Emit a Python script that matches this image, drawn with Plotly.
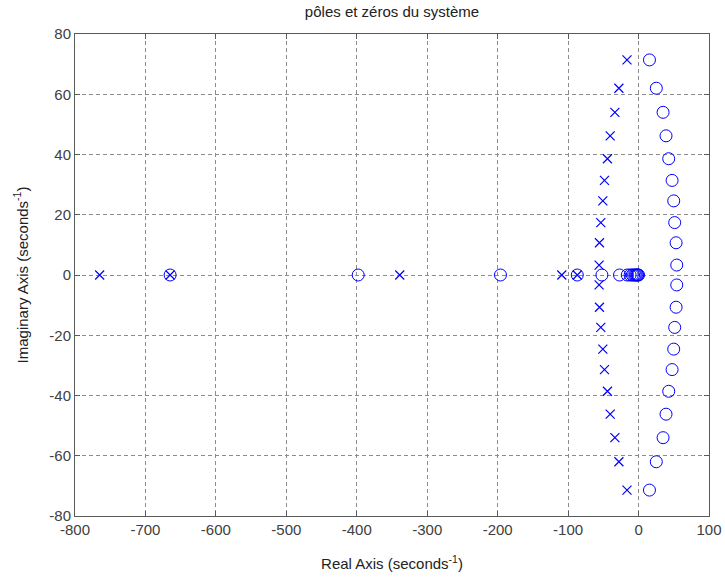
import numpy as np
import plotly.graph_objects as go

# Real poles and zeros (on the real axis)
poles_real = [-765, -665, -339, -109, -87]
zeros_real = [-665, -398, -196, -87, -52, -27, -16, -12, -9, -7, -5, -3.5, -2, -1, 0]

# Complex-conjugate pole pairs (upper half; mirrored below)
poles_cplx_re = [-16.4, -27.9, -33.6, -40.3, -44.2, -48.4, -50.7, -53.6, -55.5, -56.0]
poles_cplx_im = [71.4, 62.0, 54.0, 46.2, 38.6, 31.4, 24.6, 17.4, 10.7, 3.3]

# Complex-conjugate zero pairs (upper half; mirrored below)
zeros_cplx_re = [15.5, 25.2, 34.8, 39.0, 42.8, 47.6, 49.9, 51.3, 53.3, 54.2]
zeros_cplx_im = [71.4, 62.0, 54.0, 46.2, 38.6, 31.4, 24.6, 17.4, 10.7, 3.3]

x_ticks = [-800, -700, -600, -500, -400, -300, -200, -100, 0, 100]
y_ticks = [-80, -60, -40, -20, 0, 20, 40, 60, 80]

pr = np.array(poles_cplx_re)
pi = np.array(poles_cplx_im)
zr = np.array(zeros_cplx_re)
zi = np.array(zeros_cplx_im)

pole_x = np.concatenate([poles_real, pr, pr])
pole_y = np.concatenate([np.zeros(len(poles_real)), pi, -pi])
zero_x = np.concatenate([zeros_real, zr, zr])
zero_y = np.concatenate([np.zeros(len(zeros_real)), zi, -zi])

blue = "rgb(0,0,255)"
FONT = "Liberation Sans, Arial"

fig = go.Figure()
fig.add_trace(go.Scatter(
    x=zero_x, y=zero_y, mode="markers", name="zeros",
    marker=dict(symbol="circle-open", size=12, color=blue, line=dict(width=1, color=blue)),
))
fig.add_trace(go.Scatter(
    x=pole_x, y=pole_y, mode="markers", name="pôles",
    marker=dict(symbol="x-thin-open", size=9, color=blue, line=dict(width=1.2, color=blue)),
))

axis_common = dict(
    showgrid=True, gridcolor="#8c8c8c", griddash="4px,3px", gridwidth=1,
    zeroline=False, showline=True, linecolor="#5a5a5a", linewidth=1, mirror="ticks",
    ticks="inside", ticklen=5, tickcolor="#5a5a5a", automargin=False,
    tickfont=dict(family=FONT, size=15, color="#404040"),
)

fig.update_layout(
    width=725, height=578,
    margin=dict(l=75, r=16, t=34, b=62),
    paper_bgcolor="white", plot_bgcolor="white",
    showlegend=False,
    font=dict(family=FONT, size=15, color="#222222"),
    title=dict(text="pôles et zéros du système", x=0.5, xref="paper", y=1 - 12 / 578, yref="container",
               xanchor="center", yanchor="middle",
               font=dict(family=FONT, size=15, color="#222222")),
    xaxis=dict(range=[-800, 100], tickvals=x_ticks, ticktext=[str(v) for v in x_ticks],
               title=dict(text="Real Axis (seconds<sup>-1</sup>)", standoff=21,
                          font=dict(family=FONT, size=15, color="#222222")),
               **axis_common),
    yaxis=dict(range=[-80, 80], tickvals=y_ticks, ticktext=[str(v) for v in y_ticks],
               title=dict(text="Imaginary Axis (seconds<sup>-1</sup>)", standoff=17,
                          font=dict(family=FONT, size=15, color="#222222")),
               **axis_common),
)

fig.write_html("out.html")
